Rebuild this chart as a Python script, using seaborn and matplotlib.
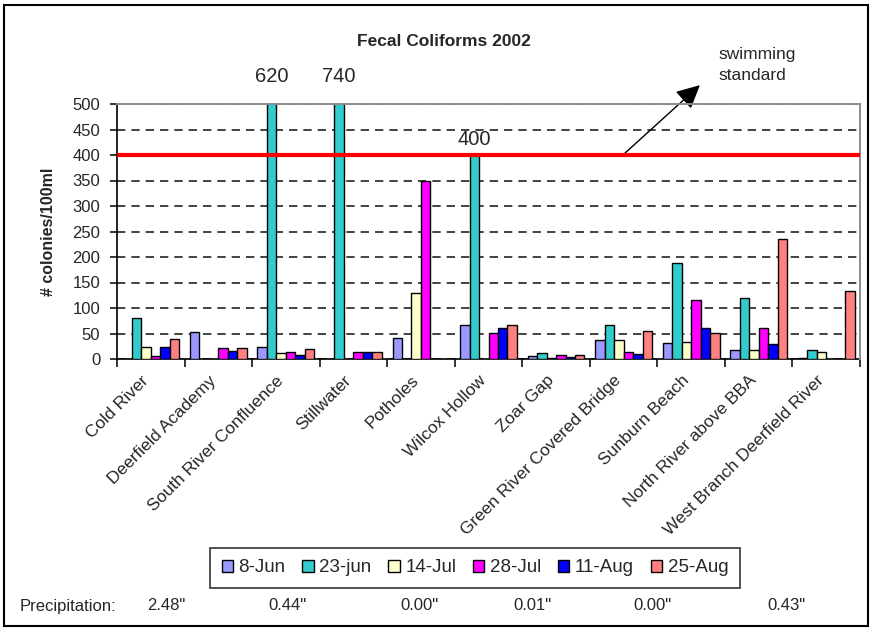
import numpy as np
import pandas as pd
import matplotlib
matplotlib.use("Agg")
import matplotlib.pyplot as plt
import seaborn as sns
from matplotlib.patches import Rectangle, Patch
from matplotlib.transforms import ScaledTranslation

# Sampling sites along the river
sites = [
    "Cold River", "Deerfield Academy", "South River Confluence", "Stillwater",
    "Potholes", "Wilcox Hollow", "Zoar Gap", "Green River Covered Bridge",
    "Sunburn Beach", "North River above BBA", "West Branch Deerfield River",
]
# Sampling dates (series)
dates = ["8-Jun", "23-jun", "14-Jul", "28-Jul", "11-Aug", "25-Aug"]

# Fecal coliform counts (colonies / 100 ml); NaN = no sample
nan = np.nan
jun08 = [nan, 52, 23, nan, 41, 67, 6, 37, 31, 17, 2]
jun23 = [81, nan, 620, 740, nan, 400, 11, 67, 189, 119, 17]
jul14 = [24, nan, 11, nan, 129, nan, 2, 37, 34, 17, 13]
jul28 = [6, 22, 14, 13, 350, 51, 7, 13, 116, 61, nan]
aug11 = [23, 16, 7, 13, nan, 61, 3, 10, 61, 29, nan]
aug25 = [40, 22, 19, 13, nan, 66, 7, 54, 51, 235, 133]

# Rainfall before each sampling date
precip = ['2.48"', '0.44"', '0.00"', '0.01"', '0.00"', '0.43"']

swim_standard = 400
y_ticks = list(range(0, 501, 50))

palette = ["#9999FF", "#33CCCC", "#FFFFCC", "#FF00FF", "#0000FF", "#FF8080"]

series = [jun08, jun23, jul14, jul28, aug11, aug25]
rows = []
for d, vals in zip(dates, series):
    for s, v in zip(sites, vals):
        rows.append({"site": s, "date": d, "count": v})
df = pd.DataFrame(rows).dropna()

sns.set_theme(style="white")
plt.rcParams["font.family"] = ["Liberation Sans", "DejaVu Sans"]

fig = plt.figure(figsize=(8.73, 6.31), dpi=100)
ax = fig.add_axes([117 / 873, 1 - 359 / 631, (860 - 117) / 873, (359 - 104) / 631])

sns.barplot(
    data=df, x="site", y="count", hue="date", order=sites, hue_order=dates,
    palette=palette, width=0.84, errorbar=None, edgecolor="black",
    linewidth=1.0, saturation=1, ax=ax, legend=False, zorder=3,
)

ax.set_xlim(-0.5, len(sites) - 0.5)
ax.set_ylim(0, 500)
ax.set_yticks(y_ticks)
ax.set_yticklabels([str(t) for t in y_ticks], fontsize=12)
ax.set_xlabel("")
ax.set_ylabel("# colonies/100ml", fontsize=11.5, fontweight="bold", labelpad=12)

# dashed horizontal gridlines
ax.set_axisbelow(True)
ax.yaxis.grid(True, color="#222222", linewidth=1.2, linestyle=(0, (5, 3.6)))
ax.xaxis.grid(False)

for side in ["top", "right"]:
    ax.spines[side].set_color("#8c8c8c")
    ax.spines[side].set_linewidth(1.4)
    ax.spines[side].set_zorder(4)
for side in ["left", "bottom"]:
    ax.spines[side].set_color("black")
    ax.spines[side].set_linewidth(1.2)

ax.tick_params(axis="y", left=True, length=5, width=1.1, color="black", pad=7)

# category labels at group centres, tick marks at group boundaries
ax.set_xticks(range(len(sites)))
ax.set_xticklabels(sites, rotation=45, ha="right", rotation_mode="anchor", fontsize=12.5)
ax.tick_params(axis="x", bottom=False, length=0, pad=10)
ax.set_xticks(np.arange(-0.5, len(sites), 1), minor=True)
ax.tick_params(axis="x", which="minor", bottom=True, length=6, width=1.1, color="black")
shift = ScaledTranslation(-10 / 100, 0, fig.dpi_scale_trans)
for lab in ax.get_xticklabels():
    lab.set_transform(lab.get_transform() + shift)

# swimming standard line
ax.axhline(swim_standard, color="#FF0000", linewidth=3, zorder=5)

# value labels on the tall 23-jun bars
teal = ax.containers[1]
teal_vals = [v for v in jun23 if not np.isnan(v)]
for patch, v in zip(teal, teal_vals):
    if v >= swim_standard:
        cx = patch.get_x() + patch.get_width() / 2
        ty = v + 12 if v <= 500 else 535
        ax.text(cx, ty, f"{int(v)}", ha="center", va="bottom", fontsize=14.5,
                clip_on=False)

fig.text(444 / 873, 1 - 42 / 631, "Fecal Coliforms 2002", fontsize=12.5,
         fontweight="bold", ha="center", va="center")

ax.annotate(
    "", xy=(8.13, 537), xytext=(6.99, swim_standard),
    arrowprops=dict(arrowstyle="-|>,head_length=0.9,head_width=0.45",
                    color="black", lw=1.0, mutation_scale=16,
                    shrinkA=0, shrinkB=0),
    annotation_clip=False,
)
ax.text(8.40, 612, "swimming\nstandard", ha="left", va="top", fontsize=12.5,
        linespacing=1.5, clip_on=False)

# legend below the axis labels
handles = [Patch(facecolor=c, edgecolor="black", linewidth=1.0) for c in palette]
leg = fig.legend(
    handles, dates, loc="center", bbox_to_anchor=(475 / 873, 1 - 568 / 631),
    ncol=6, fontsize=13.5, frameon=True, fancybox=False, edgecolor="black",
    handlelength=0.6, handleheight=0.6, handletextpad=0.3, columnspacing=0.9,
    borderpad=0.6,
)
leg.get_frame().set_linewidth(1.2)

# precipitation row
fig.text(20 / 873, 1 - 606 / 631, "Precipitation:", fontsize=12, va="center", ha="left")
precip_x = [147, 268, 400, 513, 633, 767]
for px, p in zip(precip_x, precip):
    fig.text(px / 873, 1 - 606 / 631, p, fontsize=12, va="center", ha="left")

# chart border
fig.patches.append(Rectangle((4 / 873, 5 / 631), 864 / 873, 621 / 631,
                             transform=fig.transFigure, fill=False,
                             edgecolor="black", linewidth=1.5))

fig.savefig("out.png", dpi=100)
